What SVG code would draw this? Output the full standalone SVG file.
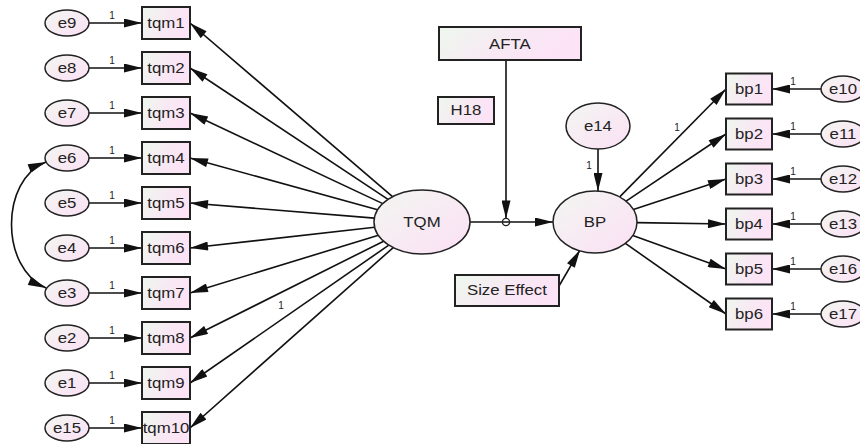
<svg xmlns="http://www.w3.org/2000/svg" width="860" height="444" viewBox="0 0 860 444">
<defs>
<linearGradient id="gb" x1="0" y1="0" x2="1" y2="0.3">
<stop offset="0" stop-color="#eef8ee"/>
<stop offset="0.6" stop-color="#f8e8f4"/>
<stop offset="1" stop-color="#fce3f6"/>
</linearGradient>
<linearGradient id="ge" x1="0" y1="0" x2="1" y2="1">
<stop offset="0" stop-color="#f3f6f1"/>
<stop offset="1" stop-color="#fbe0f5"/>
</linearGradient>
<marker id="ah" viewBox="0 0 20 10" markerWidth="20" markerHeight="9" refX="20" refY="5" orient="auto-start-reverse" markerUnits="userSpaceOnUse">
<path d="M0,0 L20,5 L0,10 Z" fill="#111"/>
</marker>
<style>
.box{fill:url(#gb);stroke:#222;stroke-width:2}
.ell{fill:url(#ge);stroke:#222;stroke-width:1.5}
.c{fill:none;stroke:#111;stroke-width:1.6;marker-end:url(#ah)}
.cd{fill:none;stroke:#111;stroke-width:1.6;marker-start:url(#ah);marker-end:url(#ah)}
.t{font-family:"Liberation Sans",Arial,sans-serif;font-size:14px;fill:#222;text-anchor:middle;dominant-baseline:central;transform-box:fill-box;transform-origin:center;transform:scaleX(1.2)}
.w{font-family:"Liberation Sans",Arial,sans-serif;font-size:10px;fill:#222;text-anchor:middle}
</style>
</defs>
<rect width="860" height="444" fill="#fff"/>

<g id="connectors">
<line class="c" x1="89" y1="23" x2="142" y2="23"/>
<line class="c" x1="89" y1="68" x2="142" y2="68"/>
<line class="c" x1="89" y1="113" x2="142" y2="113"/>
<line class="c" x1="89" y1="158" x2="142" y2="158"/>
<line class="c" x1="89" y1="203" x2="142" y2="203"/>
<line class="c" x1="89" y1="248" x2="142" y2="248"/>
<line class="c" x1="89" y1="293" x2="142" y2="293"/>
<line class="c" x1="89" y1="338" x2="142" y2="338"/>
<line class="c" x1="89" y1="383" x2="142" y2="383"/>
<line class="c" x1="89" y1="428" x2="142" y2="428"/>
<text class="w" x="112" y="19">1</text>
<text class="w" x="112" y="64">1</text>
<text class="w" x="112" y="109">1</text>
<text class="w" x="112" y="154">1</text>
<text class="w" x="112" y="199">1</text>
<text class="w" x="112" y="244">1</text>
<text class="w" x="112" y="289">1</text>
<text class="w" x="112" y="334">1</text>
<text class="w" x="112" y="379">1</text>
<text class="w" x="112" y="424">1</text>

<path class="cd" d="M46,162 C0,180 0,268 46,288"/>

<line class="c" x1="392.5" y1="196.7" x2="190" y2="23"/>
<line class="c" x1="388" y1="199.4" x2="190" y2="68"/>
<line class="c" x1="382.8" y1="203.6" x2="190" y2="113"/>
<line class="c" x1="377.6" y1="209.8" x2="190" y2="158"/>
<line class="c" x1="374.3" y1="218.1" x2="190" y2="203"/>
<line class="c" x1="374.7" y1="227.3" x2="190" y2="248"/>
<line class="c" x1="378.4" y1="235.3" x2="190" y2="293"/>
<line class="c" x1="383.6" y1="241.2" x2="190" y2="338"/>
<line class="c" x1="388.8" y1="245.1" x2="190" y2="383"/>
<line class="c" x1="393.2" y1="247.6" x2="190" y2="428"/>
<text class="w" x="281" y="308.5">1</text>

<line class="c" x1="470" y1="222" x2="553" y2="222"/>
<line class="c" x1="506" y1="60" x2="506" y2="218.5"/>
<line class="c" x1="598" y1="149" x2="598" y2="191"/>
<text class="w" x="589" y="169">1</text>
<line class="c" x1="559" y1="286" x2="580" y2="250"/>

<line class="c" x1="619.7" y1="196.9" x2="726" y2="89"/>
<line class="c" x1="626.1" y1="201.1" x2="726" y2="134"/>
<line class="c" x1="633.4" y1="209.4" x2="726" y2="179"/>
<line class="c" x1="637" y1="222.6" x2="726" y2="224"/>
<line class="c" x1="632.8" y1="235.6" x2="726" y2="269"/>
<line class="c" x1="625.4" y1="243.4" x2="726" y2="314"/>
<text class="w" x="677" y="131">1</text>

<line class="c" x1="821" y1="89" x2="772" y2="89"/>
<line class="c" x1="821" y1="134" x2="772" y2="134"/>
<line class="c" x1="821" y1="179" x2="772" y2="179"/>
<line class="c" x1="821" y1="224" x2="772" y2="224"/>
<line class="c" x1="821" y1="269" x2="772" y2="269"/>
<line class="c" x1="821" y1="314" x2="772" y2="314"/>
<text class="w" x="793" y="85">1</text>
<text class="w" x="793" y="130">1</text>
<text class="w" x="793" y="175">1</text>
<text class="w" x="793" y="220">1</text>
<text class="w" x="793" y="265">1</text>
<text class="w" x="793" y="310">1</text>
</g>

<g id="e9"><ellipse class="ell" cx="67" cy="23" rx="22" ry="13"/><text class="t" x="67" y="23">e9</text></g>
<g id="e8"><ellipse class="ell" cx="67" cy="68" rx="22" ry="13"/><text class="t" x="67" y="68">e8</text></g>
<g id="e7"><ellipse class="ell" cx="67" cy="113" rx="22" ry="13"/><text class="t" x="67" y="113">e7</text></g>
<g id="e6"><ellipse class="ell" cx="67" cy="158" rx="22" ry="13"/><text class="t" x="67" y="158">e6</text></g>
<g id="e5"><ellipse class="ell" cx="67" cy="203" rx="22" ry="13"/><text class="t" x="67" y="203">e5</text></g>
<g id="e4"><ellipse class="ell" cx="67" cy="248" rx="22" ry="13"/><text class="t" x="67" y="248">e4</text></g>
<g id="e3"><ellipse class="ell" cx="67" cy="293" rx="22" ry="13"/><text class="t" x="67" y="293">e3</text></g>
<g id="e2"><ellipse class="ell" cx="67" cy="338" rx="22" ry="13"/><text class="t" x="67" y="338">e2</text></g>
<g id="e1"><ellipse class="ell" cx="67" cy="383" rx="22" ry="13"/><text class="t" x="67" y="383">e1</text></g>
<g id="e15"><ellipse class="ell" cx="67" cy="428" rx="22" ry="13"/><text class="t" x="67" y="428">e15</text></g>

<g id="tqm1"><rect class="box" x="142" y="7" width="48" height="32"/><text class="t" x="166" y="23">tqm1</text></g>
<g id="tqm2"><rect class="box" x="142" y="52" width="48" height="32"/><text class="t" x="166" y="68">tqm2</text></g>
<g id="tqm3"><rect class="box" x="142" y="97" width="48" height="32"/><text class="t" x="166" y="113">tqm3</text></g>
<g id="tqm4"><rect class="box" x="142" y="142" width="48" height="32"/><text class="t" x="166" y="158">tqm4</text></g>
<g id="tqm5"><rect class="box" x="142" y="187" width="48" height="32"/><text class="t" x="166" y="203">tqm5</text></g>
<g id="tqm6"><rect class="box" x="142" y="232" width="48" height="32"/><text class="t" x="166" y="248">tqm6</text></g>
<g id="tqm7"><rect class="box" x="142" y="277" width="48" height="32"/><text class="t" x="166" y="293">tqm7</text></g>
<g id="tqm8"><rect class="box" x="142" y="322" width="48" height="32"/><text class="t" x="166" y="338">tqm8</text></g>
<g id="tqm9"><rect class="box" x="142" y="367" width="48" height="32"/><text class="t" x="166" y="383">tqm9</text></g>
<g id="tqm10"><rect class="box" x="142" y="412" width="48" height="32"/><text class="t" x="166" y="428">tqm10</text></g>

<g id="TQM"><ellipse class="ell" cx="422" cy="222" rx="48" ry="32"/><text class="t" x="422" y="222">TQM</text></g>
<g id="BP"><ellipse class="ell" cx="595" cy="222" rx="42" ry="31"/><text class="t" x="595" y="222">BP</text></g>
<g id="AFTA"><rect class="box" x="439" y="27" width="142" height="33"/><text class="t" x="510" y="44">AFTA</text></g>
<g id="H18"><rect class="box" x="438" y="97" width="56" height="27"/><text class="t" x="466" y="110.5">H18</text></g>
<g id="interaction"><circle cx="506" cy="222" r="3.6" fill="none" stroke="#222" stroke-width="1.4"/></g>
<g id="e14"><ellipse class="ell" cx="598" cy="126" rx="32" ry="23"/><text class="t" x="598" y="126">e14</text></g>
<g id="SizeEffect"><rect class="box" x="455" y="275" width="104" height="31"/><text class="t" x="507" y="290.5">Size Effect</text></g>

<g id="bp1"><rect class="box" x="726" y="73.5" width="46" height="31"/><text class="t" x="749" y="89">bp1</text></g>
<g id="bp2"><rect class="box" x="726" y="118.5" width="46" height="31"/><text class="t" x="749" y="134">bp2</text></g>
<g id="bp3"><rect class="box" x="726" y="163.5" width="46" height="31"/><text class="t" x="749" y="179">bp3</text></g>
<g id="bp4"><rect class="box" x="726" y="208.5" width="46" height="31"/><text class="t" x="749" y="224">bp4</text></g>
<g id="bp5"><rect class="box" x="726" y="253.5" width="46" height="31"/><text class="t" x="749" y="269">bp5</text></g>
<g id="bp6"><rect class="box" x="726" y="298.5" width="46" height="31"/><text class="t" x="749" y="314">bp6</text></g>

<g id="e10"><ellipse class="ell" cx="843" cy="89" rx="22" ry="13"/><text class="t" x="843" y="89">e10</text></g>
<g id="e11"><ellipse class="ell" cx="843" cy="134" rx="22" ry="13"/><text class="t" x="843" y="134">e11</text></g>
<g id="e12"><ellipse class="ell" cx="843" cy="179" rx="22" ry="13"/><text class="t" x="843" y="179">e12</text></g>
<g id="e13"><ellipse class="ell" cx="843" cy="224" rx="22" ry="13"/><text class="t" x="843" y="224">e13</text></g>
<g id="e16"><ellipse class="ell" cx="843" cy="269" rx="22" ry="13"/><text class="t" x="843" y="269">e16</text></g>
<g id="e17"><ellipse class="ell" cx="843" cy="314" rx="22" ry="13"/><text class="t" x="843" y="314">e17</text></g>
</svg>
